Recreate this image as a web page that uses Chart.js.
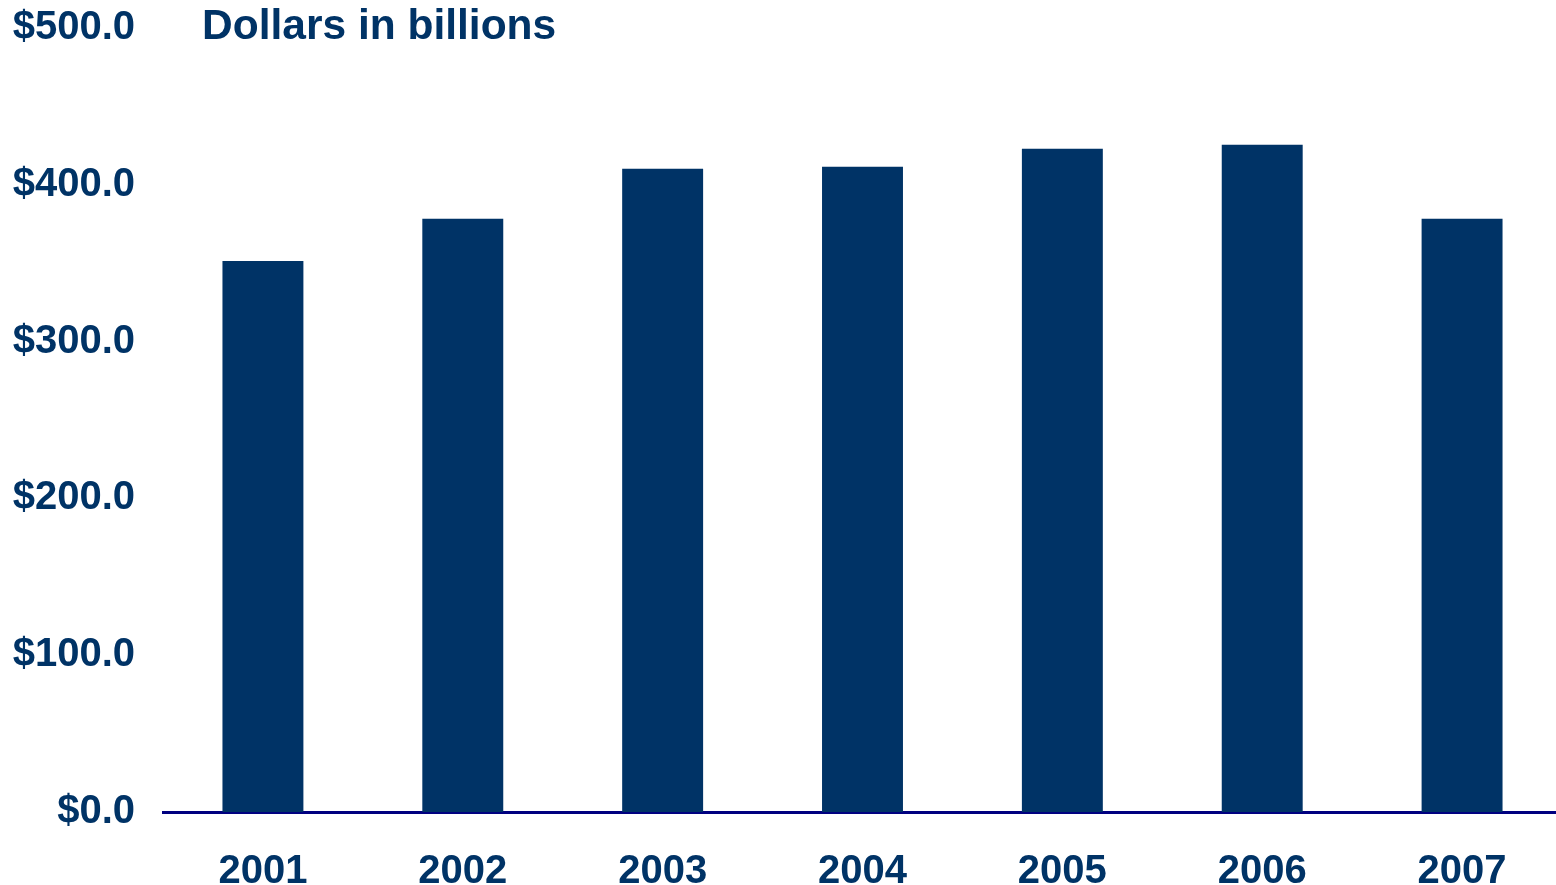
<!DOCTYPE html>
<html>
<head>
<meta charset="utf-8">
<script src="https://cdn.jsdelivr.net/npm/chart.js@4"></script>
<style>
    html, body { margin: 0; padding: 0; background: #fff; overflow: hidden; }
    #wrap { position: relative; width: 1556px; height: 885px; overflow: hidden; }
    #title {
        position: absolute; left: 202px; top: 0px;
        font: bold 42.5px "Liberation Sans", Arial, sans-serif;
        color: #003366; line-height: 50px;
    }
</style>
</head>
<body>
<div id="wrap">
    <!-- canvas runs a few px past the page so the plot is cut off at the right edge like the original slide -->
    <canvas id="chart" width="1562" height="885"></canvas>
    <div id="title">Dollars in billions</div>
</div>
<script>
const years = ['2001', '2002', '2003', '2004', '2005', '2006', '2007'];
const dollars = [351.4, 378.3, 410.2, 411.5, 423.0, 425.5, 378.3];
const yTicks = [0, 100, 200, 300, 400, 500];

document.addEventListener('DOMContentLoaded', function() {
    const navy = '#003366';
    const tickFont = { family: '"Liberation Sans", Arial, sans-serif', size: 40, weight: 'bold', lineHeight: 1.0 };

    new Chart(document.getElementById('chart').getContext('2d'), {
        type: 'bar',
        data: {
            labels: years,
            datasets: [{
                data: dollars,
                backgroundColor: navy,
                borderWidth: 0,
                categoryPercentage: 1.0,
                barPercentage: 0.405
            }]
        },
        options: {
            responsive: false,
            animation: false,
            layout: { padding: { top: 28, left: 12, right: 0, bottom: 0 } },
            plugins: {
                legend: { display: false },
                tooltip: { enabled: false }
            },
            scales: {
                x: {
                    grid: { display: false, drawTicks: false },
                    border: { display: true, color: '#000080', width: 3 },
                    ticks: { color: navy, font: tickFont, padding: 40, maxRotation: 0 },
                    afterFit: function(axis) { axis.height = 73; }
                },
                y: {
                    min: 0,
                    max: 500,
                    afterBuildTicks: function(axis) { axis.ticks = yTicks.map(v => ({ value: v })); },
                    afterFit: function(axis) {
                        axis.width = 151;
                        axis.paddingTop = 0;
                        axis.paddingBottom = 0;
                    },
                    grid: { display: false, drawTicks: false },
                    border: { display: false },
                    ticks: {
                        color: navy,
                        font: tickFont,
                        padding: 28,
                        callback: v => '$' + Number(v).toFixed(1)
                    }
                }
            }
        }
    });
});
</script>
</body>
</html>
